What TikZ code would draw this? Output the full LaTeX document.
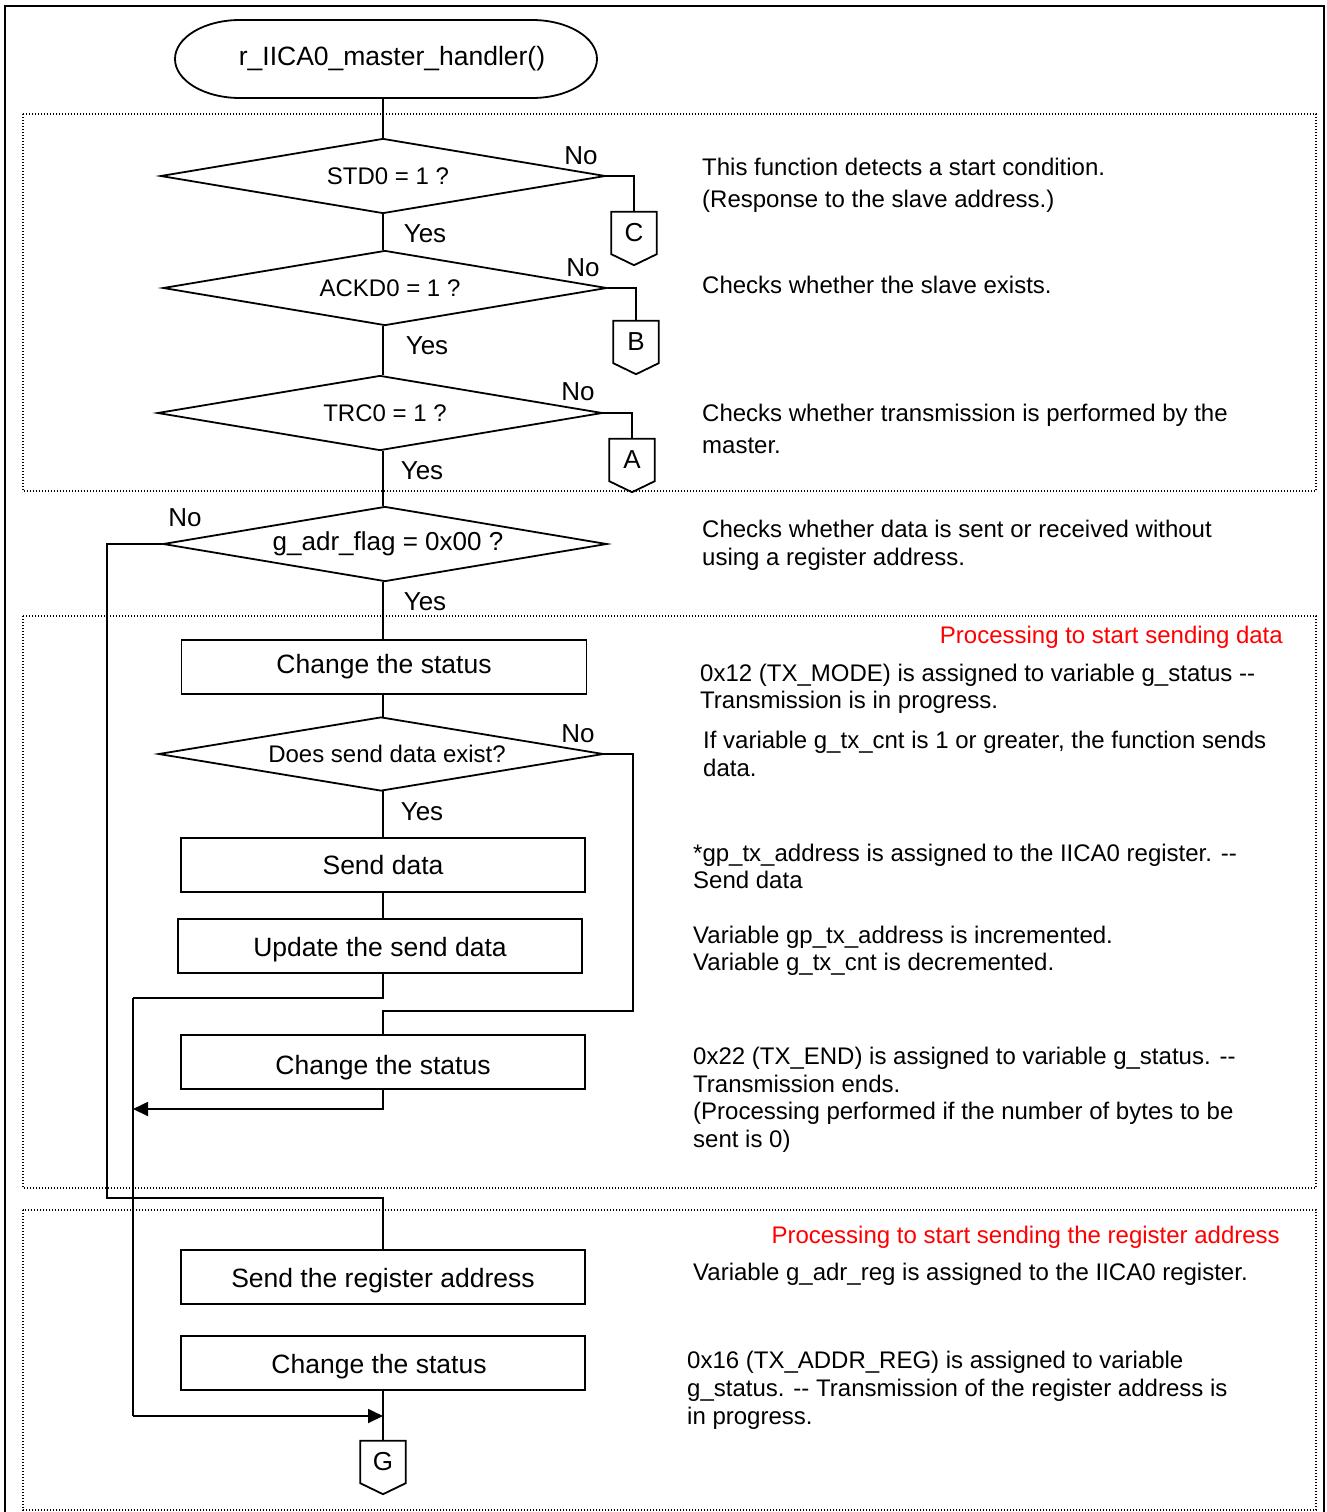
\documentclass[tikz,border=0pt]{standalone}
\usepackage{fontspec}
\setmainfont{Liberation Sans}
\usetikzlibrary{shapes.geometric,arrows.meta,calc}
\definecolor{redtxt}{RGB}{255,0,0}
\tikzset{
  ln/.style={line width=1.8pt},
  dotbox/.style={line width=1.3pt, dash pattern=on 1.3pt off 1.7pt},
  proc/.style={draw, ln, rectangle, minimum width=404pt, minimum height=54pt, inner sep=0pt, font=\fontsize{26.5}{30}\selectfont},
  low/.style={text height=21pt, text depth=0pt},
  lower/.style={text height=25pt, text depth=0pt},
  dec/.style={draw, ln, diamond, aspect=6, minimum width=445pt, minimum height=75pt, inner sep=0pt, font=\fontsize{24}{28}\selectfont},
  conn/.style={minimum width=45pt, minimum height=42pt, inner sep=0pt, font=\fontsize{26}{30}\selectfont},
  lbl/.style={inner sep=0pt, font=\fontsize{26}{30}\selectfont},
  cmt/.style={inner sep=0pt, anchor=base west, font=\fontsize{24}{28}\selectfont},
  red/.style={inner sep=0pt, anchor=base east, text=redtxt, font=\fontsize{24}{28}\selectfont},
  arr/.style={ln, -{Triangle[length=15pt, width=14pt]}}
}
\newcommand{\connshape}[1]{\draw[ln] (#1.north west) -- (#1.north east) -- (#1.south east) -- ([yshift=-11pt]#1.south) -- (#1.south west) -- cycle;}
\newcommand{\sh}{\hspace*{10pt}}
\begin{document}
\begin{tikzpicture}[x=1pt,y=-1pt]
\useasboundingbox (0,0) rectangle (1326,1512);
% outer frame
\draw[ln] (5,1512) -- (5,6) -- (1324,6) -- (1324,1512);
% dotted groups
\draw[dotbox] (23,114) rectangle (1316,491);
\draw[dotbox] (23,616) rectangle (1316,1188);
\draw[dotbox] (23,1210) rectangle (1316,1510);

% start terminal
\node[inner sep=0pt, minimum width=422pt, minimum height=78pt, font=\fontsize{26.5}{30}\selectfont] (start) at (386,59) {\hspace*{12pt}r\_IICA0\_master\_handler()};
\draw[ln] (240,20) -- (532,20) arc[start angle=-90, end angle=90, x radius=65, y radius=39] -- (240,98) arc[start angle=90, end angle=270, x radius=65, y radius=39] -- cycle;

% decisions
\node[dec] (d1) at (383,176) {\sh STD0 = 1 ?};
\node[dec, minimum width=444pt] (d2) at (385,288) {\sh ACKD0 = 1 ?};
\node[dec] (d3) at (380,413) {\sh TRC0 = 1 ?};
\node[dec, minimum width=444pt, font=\fontsize{26}{30}\selectfont] (d4) at (385,544) {\hspace*{6pt}g\_adr\_flag = 0x00 ?};

% off-page connectors
\node[conn] (cC) at (634,233) {C};
\node[conn] (cB) at (636,342) {B};
\node[conn] (cA) at (632,460) {A};
\connshape{cC}\connshape{cB}\connshape{cA}

% process boxes
\node[proc, minimum width=405pt] (b1) at (384,667) {Change the status};
\node[dec, minimum height=74pt] (d5) at (381,754) {\hspace*{12pt}Does send data exist?};
\node[proc] (b2) at (383,865) {Send data};
\node[proc, low] (b3) at (380,946) {Update the send data};
\node[proc, lower] (b4) at (383,1062) {Change the status};
\node[proc, low] (b5) at (383,1277) {Send the register address};
\node[proc, low] (b6) at (383,1363) {\hspace*{-8pt}Change the status};
\node[conn] (cG) at (383,1462) {G};
\connshape{cG}

% junction coordinates
\coordinate (jL) at (133,998);
\coordinate (jR) at (383,1416);

% main trunk
\draw[ln] ([xshift=-3pt]start.south) -- (d1.north);
\draw[ln] (383,213) -- (383,250);
\draw[ln] (383,326) -- (383,375);
\draw[ln] (383,451) -- (383,506);
\draw[ln] (383,582) -- (383,640);
\draw[ln] (383,694) -- (383,717);
\draw[ln] (383,791) -- (383,838);
\draw[ln] (383,892) -- (383,919);
\draw[ln] (383,973) -- (383,998) -- (jL);
\draw[ln] (jL) -- (133,1416);
\draw[arr] (133,1416) -- (jR);
\draw[ln] (b6.south) -- (cG.north);

% No branches to connectors
\draw[ln] (d1.east) -| (cC.north);
\draw[ln] (d2.east) -| (cB.north);
\draw[ln] (d3.east) -| (cA.north);

% d4 No branch
\draw[ln] (d4.west) -- (107,544) -- (107,1198) -- (383,1198) -- (b5.north);
% d5 No branch
\draw[ln] (d5.east) -- (633,754) -- (633,1011) -- (383,1011) -- (b4.north);
% b4 to left line
\draw[arr] (b4.south) -- (383,1109) -- (133,1109);

% Yes / No labels
\node[lbl] (n1) at (581,156) {No};
\node[lbl] (n2) at (583,268) {No};
\node[lbl] (n3) at (578,392) {No};
\node[lbl] (n4) at (185,518) {No};
\node[lbl] (n5) at (578,734) {No};
\node[lbl] (y1) at (425,234) {Yes};
\node[lbl] (y2) at (427,346) {Yes};
\node[lbl] (y3) at (422,471) {Yes};
\node[lbl] (y4) at (425,602) {Yes};
\node[lbl] (y5) at (422,812) {Yes};

% red headings
\node[red] (r1) at (1283,643) {Processing to start sending data};
\node[red] (r2) at (1280,1243) {Processing to start sending the register address};

% comments
\node[cmt] (c1a) at (702,175) {This function detects a start condition.};
\node[cmt] (c1b) at (702,207) {(Response to the slave address.)};
\node[cmt] (c2) at (702,293) {Checks whether the slave exists.};
\node[cmt] (c3a) at (702,421) {Checks whether transmission is performed by the};
\node[cmt] (c3b) at (702,453) {master.};
\node[cmt] (c4a) at (702,537) {Checks whether data is sent or received without};
\node[cmt] (c4b) at (702,565) {using a register address.};
\node[cmt] (c5a) at (700,681) {0x12 (TX\_MODE) is assigned to variable g\_status -{}-};
\node[cmt] (c5b) at (700,708) {Transmission is in progress.};
\node[cmt] (c6a) at (703,748) {If variable g\_tx\_cnt is 1 or greater, the function sends};
\node[cmt] (c6b) at (703,776) {data.};
\node[cmt] (c7a) at (693,861) {*gp\_tx\_address is assigned to the IICA0 register. -{}-};
\node[cmt] (c7b) at (693,888) {Send data};
\node[cmt] (c8a) at (693,943) {Variable gp\_tx\_address is incremented.};
\node[cmt] (c8b) at (693,970) {Variable g\_tx\_cnt is decremented.};
\node[cmt] (c9a) at (693,1064) {0x22 (TX\_END) is assigned to variable g\_status. -{}-};
\node[cmt] (c9b) at (693,1092) {Transmission ends.};
\node[cmt] (c9c) at (693,1119) {(Processing performed if the number of bytes to be};
\node[cmt] (c9d) at (693,1147) {sent is 0)};
\node[cmt] (c10) at (693,1280) {Variable g\_adr\_reg is assigned to the IICA0 register.};
\node[cmt] (c11a) at (687,1368) {0x16 (TX\_ADDR\_REG) is assigned to variable};
\node[cmt] (c11b) at (687,1396) {g\_status. -{}- Transmission of the register address is};
\node[cmt] (c11c) at (687,1424) {in progress.};
\end{tikzpicture}
\end{document}
